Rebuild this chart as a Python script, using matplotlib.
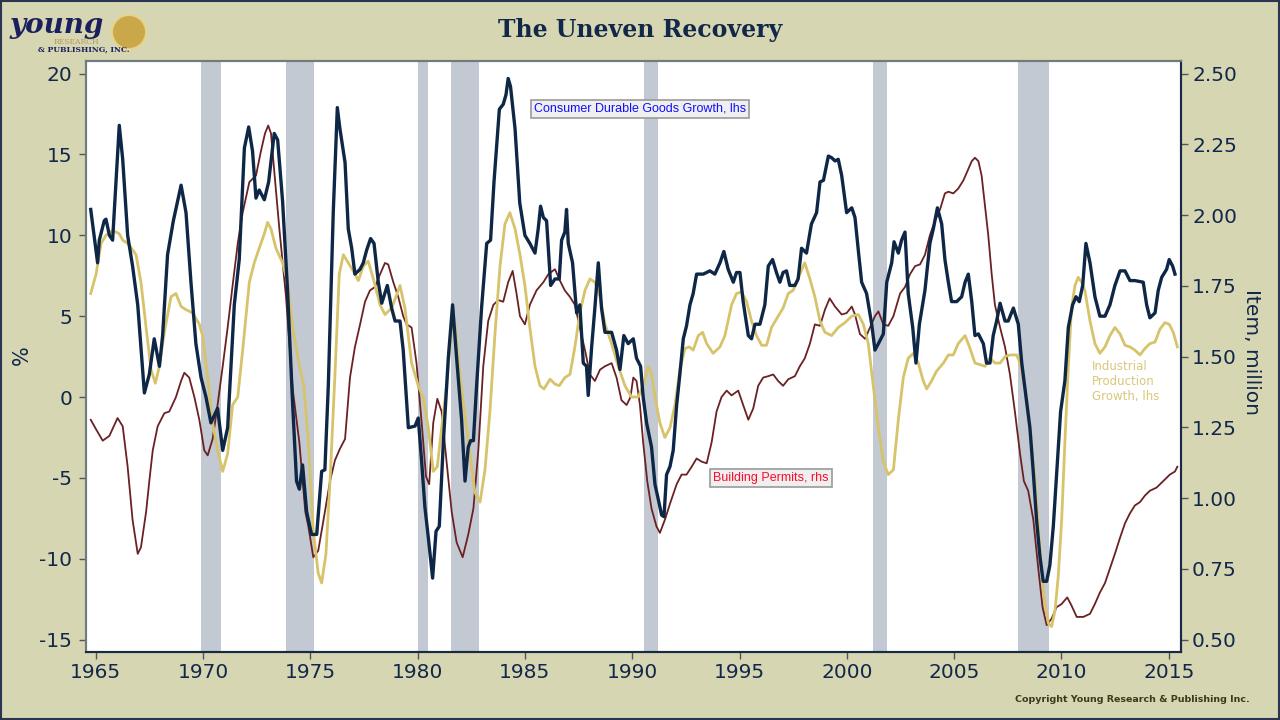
import matplotlib
matplotlib.use("Agg")
import matplotlib.pyplot as plt
from matplotlib.patches import Rectangle, Ellipse

plt.rcParams['axes.unicode_minus'] = False

# ---------------- data ----------------
# Consumer Durable Goods Growth, % (lhs)
dur_t = [1964.77, 1965.09, 1965.17, 1965.40, 1965.48, 1965.64, 1965.79, 1966.10, 1966.26, 1966.49,
         1966.72, 1966.96, 1967.27, 1967.50, 1967.73, 1967.97, 1968.12, 1968.35, 1968.62, 1968.98,
         1969.21, 1969.44, 1969.67, 1969.91, 1970.14, 1970.37, 1970.68, 1970.92, 1971.15, 1971.46,
         1971.69, 1971.93, 1972.13, 1972.31, 1972.47, 1972.62, 1972.86, 1973.06, 1973.32, 1973.48,
         1973.71, 1973.94, 1974.18, 1974.36, 1974.49, 1974.64, 1974.83, 1975.06, 1975.30, 1975.53,
         1975.68, 1975.84, 1976.07, 1976.26, 1976.38, 1976.62, 1976.77, 1976.93, 1977.08, 1977.32,
         1977.47, 1977.63, 1977.81, 1977.97, 1978.17, 1978.33, 1978.59, 1978.79, 1978.95, 1979.18,
         1979.33, 1979.57, 1979.88, 1980.03, 1980.19, 1980.34, 1980.50, 1980.70, 1980.86, 1981.01,
         1981.20, 1981.43, 1981.63, 1981.82, 1982.05, 1982.21, 1982.36, 1982.47, 1982.60, 1982.75,
         1982.98, 1983.22, 1983.40, 1983.56, 1983.81, 1983.99, 1984.12, 1984.22, 1984.33, 1984.54,
         1984.76, 1985.00, 1985.23, 1985.47, 1985.62, 1985.73, 1985.86, 1986.01, 1986.20, 1986.40,
         1986.60, 1986.71, 1986.86, 1986.94, 1987.02, 1987.22, 1987.41, 1987.56, 1987.72, 1987.87,
         1987.95, 1988.11, 1988.26, 1988.42, 1988.57, 1988.73, 1989.04, 1989.27, 1989.43, 1989.61,
         1989.81, 1990.05, 1990.20, 1990.39, 1990.51, 1990.67, 1990.90, 1991.06, 1991.21, 1991.37,
         1991.48, 1991.60, 1991.76, 1991.91, 1992.07, 1992.22, 1992.38, 1992.53, 1992.69, 1992.84,
         1993.00, 1993.31, 1993.62, 1993.85, 1994.09, 1994.27, 1994.47, 1994.71, 1994.86, 1995.02,
         1995.17, 1995.41, 1995.56, 1995.72, 1995.95, 1996.18, 1996.34, 1996.54, 1996.72, 1996.88,
         1997.03, 1997.19, 1997.34, 1997.58, 1997.73, 1997.89, 1998.12, 1998.35, 1998.59, 1998.75,
         1998.91, 1999.14, 1999.29, 1999.45, 1999.60, 1999.76, 1999.99, 2000.23, 2000.38, 2000.54,
         2000.69, 2000.92, 2001.16, 2001.31, 2001.47, 2001.70, 2001.86, 2002.09, 2002.20, 2002.40,
         2002.55, 2002.71, 2002.86, 2003.07, 2003.22, 2003.38, 2003.64, 2003.87, 2004.03, 2004.22,
         2004.42, 2004.57, 2004.73, 2004.88, 2005.12, 2005.35, 2005.51, 2005.66, 2005.82, 2005.97,
         2006.13, 2006.36, 2006.51, 2006.67, 2006.82, 2006.98, 2007.14, 2007.37, 2007.52, 2007.76,
         2007.99, 2008.15, 2008.30, 2008.53, 2008.69, 2008.84, 2009.00, 2009.15, 2009.31, 2009.46,
         2009.62, 2009.81, 2009.96, 2010.16, 2010.32, 2010.52, 2010.68, 2010.83, 2010.99, 2011.14,
         2011.33, 2011.56, 2011.79, 2012.03, 2012.26, 2012.49, 2012.73, 2012.96, 2013.19, 2013.42,
         2013.81, 2013.97, 2014.12, 2014.36, 2014.51, 2014.67, 2014.90, 2015.02, 2015.18, 2015.29]
dur_v = [11.6, 8.3, 9.7, 10.9, 11.0, 10.0, 9.7, 16.8, 14.7, 10.0,
         8.1, 5.7, 0.25, 1.4, 3.6, 1.9, 3.8, 8.8, 10.9, 13.1,
         11.4, 7.1, 3.3, 1.2, 0.0, -1.6, -0.7, -3.3, -1.9, 5.7,
         8.5, 15.4, 16.7, 15.2, 12.3, 12.8, 12.2, 13.3, 16.3, 15.9,
         12.1, 6.6, -0.5, -5.2, -5.7, -4.2, -7.1, -8.5, -8.5, -4.6,
         -4.5, 0.7, 11.4, 17.9, 16.6, 14.5, 10.4, 9.2, 7.6, 7.9,
         8.3, 9.1, 9.8, 9.5, 7.1, 5.8, 6.9, 5.5, 4.7, 4.7,
         2.9, -1.9, -1.8, -1.3, -4.0, -6.8, -8.7, -11.2, -8.3, -8.0,
         -2.8, 2.4, 5.7, 2.4, -1.4, -5.2, -3.1, -2.7, -2.7, 0.7,
         5.5, 9.5, 9.7, 13.3, 17.8, 18.1, 18.7, 19.7, 19.2, 16.6,
         12.0, 10.0, 9.5, 8.9, 10.4, 11.8, 11.1, 10.9, 6.9, 7.3,
         7.3, 9.7, 10.2, 11.6, 9.5, 8.3, 5.2, 5.7, 2.1, 1.9,
         0.1, 3.1, 5.5, 8.3, 5.5, 4.0, 4.0, 2.9, 1.7, 3.8,
         3.3, 3.6, 2.4, 1.9, 0.0, -1.6, -3.1, -5.4, -6.3, -7.3,
         -7.4, -4.8, -4.3, -3.3, -0.5, 1.4, 3.6, 4.4, 5.7, 6.4,
         7.6, 7.6, 7.8, 7.6, 8.3, 9.0, 7.9, 7.1, 7.7, 7.7,
         5.9, 3.8, 3.6, 4.5, 4.5, 5.7, 8.1, 8.5, 7.7, 7.1,
         7.7, 7.8, 6.9, 6.9, 7.3, 9.2, 8.9, 10.7, 11.4, 13.3,
         13.4, 14.9, 14.8, 14.6, 14.7, 13.7, 11.4, 11.7, 11.1, 9.0,
         7.1, 6.4, 4.5, 2.9, 3.3, 3.9, 7.1, 8.3, 9.6, 8.9,
         9.7, 10.2, 6.4, 4.3, 2.1, 4.5, 6.6, 9.5, 10.4, 11.7,
         10.7, 8.5, 7.1, 5.9, 5.9, 6.2, 7.1, 7.6, 5.9, 3.8,
         3.9, 3.3, 2.1, 2.1, 3.8, 4.7, 5.8, 4.7, 4.7, 5.5,
         4.5, 2.1, 0.5, -1.9, -4.7, -7.6, -9.9, -11.4, -11.4, -10.4,
         -8.0, -4.0, -0.9, 1.0, 4.3, 5.7, 6.2, 5.9, 6.9, 9.5,
         8.3, 6.2, 5.0, 5.0, 5.7, 6.9, 7.8, 7.8, 7.2, 7.2,
         7.1, 5.7, 4.9, 5.2, 6.6, 7.4, 7.9, 8.5, 8.1, 7.6]

# Industrial Production Growth, % (lhs)
ip_t = [1964.77, 1965.02, 1965.25, 1965.48, 1965.79, 1966.10, 1966.26, 1966.49, 1966.72, 1966.88,
        1967.11, 1967.35, 1967.58, 1967.78, 1967.97, 1968.20, 1968.51, 1968.74, 1968.98, 1969.21,
        1969.52, 1969.83, 1969.98, 1970.22, 1970.45, 1970.68, 1970.92, 1971.15, 1971.38, 1971.62,
        1971.85, 1972.16, 1972.39, 1972.62, 1972.86, 1973.01, 1973.17, 1973.40, 1973.71, 1973.94,
        1974.18, 1974.49, 1974.70, 1974.91, 1975.14, 1975.37, 1975.53, 1975.73, 1975.92, 1976.15,
        1976.35, 1976.54, 1976.77, 1977.00, 1977.24, 1977.47, 1977.70, 1977.94, 1978.25, 1978.48,
        1978.79, 1979.02, 1979.18, 1979.41, 1979.72, 1980.03, 1980.27, 1980.50, 1980.73, 1980.92,
        1981.12, 1981.35, 1981.59, 1981.74, 1981.97, 1982.21, 1982.44, 1982.67, 1982.91, 1983.14,
        1983.37, 1983.60, 1983.84, 1984.07, 1984.30, 1984.54, 1984.77, 1985.00, 1985.23, 1985.47,
        1985.70, 1985.89, 1986.17, 1986.40, 1986.60, 1986.86, 1987.10, 1987.33, 1987.56, 1987.80,
        1988.03, 1988.26, 1988.50, 1988.73, 1989.04, 1989.35, 1989.66, 1989.97, 1990.28, 1990.51,
        1990.75, 1990.90, 1991.06, 1991.29, 1991.52, 1991.76, 1991.99, 1992.22, 1992.46, 1992.66,
        1992.84, 1993.08, 1993.28, 1993.47, 1993.77, 1994.09, 1994.32, 1994.63, 1994.86, 1995.09,
        1995.33, 1995.56, 1995.79, 1996.03, 1996.26, 1996.49, 1996.80, 1997.03, 1997.27, 1997.50,
        1997.81, 1998.04, 1998.28, 1998.51, 1998.75, 1998.98, 1999.29, 1999.60, 1999.91, 2000.23,
        2000.54, 2000.77, 2001.00, 2001.23, 2001.47, 2001.70, 2001.93, 2002.17, 2002.40, 2002.63,
        2002.86, 2003.10, 2003.33, 2003.56, 2003.72, 2003.95, 2004.18, 2004.50, 2004.73, 2004.96,
        2005.19, 2005.51, 2005.74, 2005.97, 2006.20, 2006.44, 2006.67, 2006.90, 2007.14, 2007.37,
        2007.60, 2007.91, 2008.07, 2008.30, 2008.53, 2008.77, 2009.00, 2009.18, 2009.39, 2009.54,
        2009.70, 2009.85, 2010.01, 2010.16, 2010.32, 2010.47, 2010.63, 2010.78, 2010.94, 2011.09,
        2011.33, 2011.56, 2011.79, 2012.03, 2012.26, 2012.49, 2012.73, 2012.96, 2013.19, 2013.42,
        2013.66, 2013.89, 2014.12, 2014.36, 2014.59, 2014.82, 2015.02, 2015.21, 2015.40]
ip_v = [6.4, 7.6, 9.5, 10.0, 10.3, 10.1, 9.7, 9.5, 9.1, 8.8,
        7.1, 4.3, 1.7, 0.85, 1.9, 4.0, 6.2, 6.4, 5.6, 5.4,
        5.2, 4.5, 3.8, 1.2, -1.6, -3.3, -4.6, -3.5, -0.5, 0.0,
        2.9, 7.1, 8.3, 9.2, 10.1, 10.8, 10.4, 9.2, 8.3, 7.1,
        4.3, 1.9, 0.7, -2.8, -8.3, -10.9, -11.5, -9.7, -5.2, 1.4,
        7.6, 8.8, 8.3, 7.8, 7.2, 8.1, 8.4, 7.3, 5.7, 5.1,
        5.5, 6.3, 6.9, 5.5, 2.1, 0.7, -0.1, -1.9, -4.6, -4.3,
        -1.9, 0.7, 4.3, 4.5, 1.4, -1.2, -3.5, -5.9, -6.5, -4.5,
        -0.9, 3.8, 8.1, 10.7, 11.4, 10.4, 8.8, 6.9, 4.3, 1.9,
        0.7, 0.5, 1.1, 0.8, 0.7, 1.2, 1.4, 3.1, 5.2, 6.6,
        7.3, 7.1, 6.2, 4.5, 3.3, 1.9, 0.7, 0.0, 0.0, 0.7,
        1.9, 1.4, 0.0, -1.6, -2.5, -1.9, -0.5, 1.7, 3.0, 3.1,
        2.9, 3.8, 4.0, 3.3, 2.7, 3.1, 3.8, 5.7, 6.4, 6.5,
        5.9, 4.7, 3.8, 3.2, 3.2, 4.3, 5.0, 5.5, 6.4, 6.6,
        7.6, 8.3, 7.3, 6.2, 4.7, 4.0, 3.8, 4.3, 4.6, 5.0,
        5.1, 4.5, 3.3, 0.7, -1.9, -4.0, -4.8, -4.5, -1.4, 1.2,
        2.4, 2.7, 2.1, 1.0, 0.5, 1.0, 1.6, 2.1, 2.6, 2.6,
        3.3, 3.8, 3.0, 2.1, 2.0, 1.9, 2.4, 2.1, 2.1, 2.5,
        2.6, 2.6, 2.1, 0.5, -1.9, -5.2, -9.5, -12.3, -14.0, -14.2,
        -13.2, -11.1, -7.6, -2.8, 1.9, 5.5, 6.9, 7.4, 7.1, 6.6,
        4.7, 3.3, 2.7, 3.1, 3.8, 4.3, 3.9, 3.2, 3.1, 2.9,
        2.6, 3.0, 3.3, 3.4, 4.2, 4.6, 4.5, 4.0, 3.1]

# Building Permits, million (rhs)
bp_t = [1964.77, 1965.02, 1965.33, 1965.64, 1966.02, 1966.26, 1966.49, 1966.72, 1966.96, 1967.11,
        1967.35, 1967.50, 1967.66, 1967.89, 1968.20, 1968.43, 1968.74, 1968.98, 1969.13, 1969.36,
        1969.60, 1969.83, 1970.06, 1970.22, 1970.45, 1970.68, 1970.92, 1971.15, 1971.38, 1971.62,
        1971.85, 1972.16, 1972.47, 1972.70, 1972.89, 1973.04, 1973.17, 1973.32, 1973.56, 1973.87,
        1974.18, 1974.49, 1974.77, 1974.91, 1975.14, 1975.37, 1975.68, 1975.92, 1976.15, 1976.38,
        1976.62, 1976.85, 1977.08, 1977.32, 1977.55, 1977.78, 1978.01, 1978.25, 1978.48, 1978.63,
        1978.87, 1979.10, 1979.33, 1979.49, 1979.72, 1979.95, 1980.19, 1980.39, 1980.54, 1980.73,
        1980.92, 1981.12, 1981.35, 1981.59, 1981.82, 1982.10, 1982.36, 1982.60, 1982.83, 1983.06,
        1983.29, 1983.53, 1983.76, 1983.99, 1984.22, 1984.43, 1984.61, 1984.77, 1985.00, 1985.23,
        1985.54, 1985.86, 1986.09, 1986.40, 1986.63, 1986.86, 1987.10, 1987.33, 1987.56, 1987.80,
        1988.03, 1988.26, 1988.50, 1988.73, 1989.04, 1989.27, 1989.50, 1989.74, 1989.92, 1990.05,
        1990.20, 1990.36, 1990.51, 1990.70, 1990.90, 1991.13, 1991.29, 1991.52, 1991.76, 1992.07,
        1992.30, 1992.53, 1992.77, 1993.00, 1993.23, 1993.47, 1993.70, 1993.93, 1994.16, 1994.40,
        1994.63, 1994.94, 1995.17, 1995.41, 1995.64, 1995.87, 1996.10, 1996.34, 1996.57, 1996.80,
        1997.03, 1997.27, 1997.58, 1997.81, 1998.04, 1998.28, 1998.51, 1998.75, 1998.98, 1999.20,
        1999.45, 1999.76, 1999.99, 2000.23, 2000.38, 2000.61, 2000.85, 2001.08, 2001.31, 2001.47,
        2001.70, 2001.93, 2002.17, 2002.48, 2002.71, 2002.94, 2003.18, 2003.41, 2003.64, 2003.87,
        2004.11, 2004.34, 2004.57, 2004.73, 2004.96, 2005.19, 2005.43, 2005.66, 2005.82, 2005.97,
        2006.13, 2006.28, 2006.44, 2006.59, 2006.75, 2006.90, 2007.14, 2007.37, 2007.60, 2007.83,
        2008.07, 2008.25, 2008.45, 2008.69, 2008.92, 2009.12, 2009.31, 2009.54, 2009.77, 2010.01,
        2010.27, 2010.47, 2010.71, 2011.02, 2011.33, 2011.56, 2011.79, 2012.03, 2012.26, 2012.49,
        2012.73, 2012.96, 2013.19, 2013.42, 2013.66, 2013.89, 2014.12, 2014.43, 2014.74, 2015.05,
        2015.29, 2015.40]
bp_v = [1.277, 1.243, 1.203, 1.220, 1.283, 1.254, 1.111, 0.923, 0.803, 0.826,
        0.951, 1.060, 1.169, 1.254, 1.300, 1.306, 1.357, 1.414, 1.443, 1.426,
        1.357, 1.277, 1.169, 1.151, 1.209, 1.329, 1.466, 1.603, 1.751, 1.900,
        2.009, 2.117, 2.140, 2.226, 2.289, 2.317, 2.289, 2.157, 1.951, 1.711,
        1.386, 1.197, 0.951, 0.900, 0.791, 0.814, 0.951, 1.060, 1.134, 1.174,
        1.209, 1.426, 1.534, 1.614, 1.694, 1.734, 1.746, 1.791, 1.831, 1.826,
        1.763, 1.711, 1.643, 1.614, 1.603, 1.477, 1.266, 1.077, 1.049, 1.266,
        1.351, 1.306, 1.129, 0.951, 0.843, 0.791, 0.871, 0.963, 1.169, 1.466,
        1.626, 1.683, 1.700, 1.694, 1.763, 1.803, 1.723, 1.643, 1.614, 1.683,
        1.734, 1.763, 1.791, 1.809, 1.769, 1.734, 1.711, 1.683, 1.603, 1.523,
        1.437, 1.414, 1.454, 1.466, 1.477, 1.426, 1.346, 1.329, 1.357, 1.426,
        1.414, 1.329, 1.197, 1.060, 0.963, 0.900, 0.877, 0.923, 0.980, 1.049,
        1.083, 1.083, 1.111, 1.140, 1.129, 1.123, 1.197, 1.306, 1.357, 1.380,
        1.363, 1.380, 1.329, 1.277, 1.317, 1.397, 1.426, 1.431, 1.437, 1.414,
        1.397, 1.420, 1.431, 1.466, 1.494, 1.546, 1.614, 1.609, 1.666, 1.706,
        1.677, 1.649, 1.654, 1.677, 1.649, 1.580, 1.563, 1.603, 1.643, 1.660,
        1.614, 1.609, 1.643, 1.723, 1.746, 1.791, 1.820, 1.826, 1.860, 1.929,
        1.980, 2.020, 2.077, 2.083, 2.077, 2.094, 2.123, 2.163, 2.191, 2.203,
        2.191, 2.140, 2.031, 1.929, 1.791, 1.683, 1.603, 1.534, 1.437, 1.306,
        1.157, 1.060, 1.026, 0.923, 0.751, 0.614, 0.551, 0.574, 0.614, 0.626,
        0.649, 0.620, 0.580, 0.580, 0.591, 0.626, 0.666, 0.700, 0.751, 0.803,
        0.860, 0.911, 0.946, 0.974, 0.986, 1.009, 1.026, 1.037, 1.060, 1.083,
        1.094, 1.111]

recession_start = [1969.92, 1973.88, 1980.00, 1981.54, 1990.54, 2001.21, 2007.96]
recession_end = [1970.85, 1975.18, 1980.50, 1982.86, 1991.19, 2001.85, 2009.44]

x_ticks = [1965, 1970, 1975, 1980, 1985, 1990, 1995, 2000, 2005, 2010, 2015]
left_ticks = [-15, -10, -5, 0, 5, 10, 15, 20]
right_ticks = [0.50, 0.75, 1.00, 1.25, 1.50, 1.75, 2.00, 2.25, 2.50]

# ---------------- styling ----------------
BG = '#D7D6B3'
NAVY = '#0E2746'
GOLD = '#D6C36A'
MAROON = '#6B2123'
TXT = '#12284A'
RECESS = '#C2C9D2'

fig = plt.figure(figsize=(12.8, 7.2), dpi=100, facecolor=BG)
W, H = 1280.0, 720.0
ax2 = fig.add_axes([86 / W, 1 - 652 / H, (1181 - 86) / W, (652 - 61) / H])
ax1 = ax2.twinx()
# lhs series (durables, IP) drawn above the rhs series (permits)
ax2.set_zorder(1)
ax1.set_zorder(2)
ax1.patch.set_visible(False)
ax2.set_facecolor('white')

for s, e in zip(recession_start, recession_end):
    ax2.axvspan(s, e, color=RECESS, lw=0, zorder=0)

ax2.plot(bp_t, bp_v, color=MAROON, lw=1.3, zorder=2)
ax1.plot(ip_t, ip_v, color=GOLD, lw=2.0, zorder=3)
ax1.plot(dur_t, dur_v, color=NAVY, lw=2.4, zorder=4)

ax2.set_xlim(1964.55, 2015.57)
ax1.set_ylim(-15.77, 20.78)
ax2.set_ylim(0.456, 2.545)

ax1.yaxis.tick_left()
ax2.yaxis.tick_right()

ax1.set_yticks(left_ticks)
ax1.set_yticklabels([str(v) for v in left_ticks])
ax2.set_yticks(right_ticks)
ax2.set_yticklabels(['%.2f' % v for v in right_ticks])
ax2.set_xticks(x_ticks)
ax2.set_xticklabels([str(v) for v in x_ticks])

ax1.tick_params(axis='y', direction='out', length=5, width=1, color='#555555',
                labelsize=14.5, labelcolor=TXT, pad=5)
ax2.tick_params(axis='y', direction='out', length=5, width=1, color='#555555',
                labelsize=14.5, labelcolor=TXT, pad=3)
ax2.tick_params(axis='x', direction='out', length=5, width=1, color='#555555',
                labelsize=14.5, labelcolor=TXT, pad=3)
ax1.tick_params(axis='x', bottom=False, labelbottom=False)

for ax in (ax1, ax2):
    ax.spines['top'].set_color('#6E7C80')
    ax.spines['left'].set_color('#6E7C80')
    ax.spines['bottom'].set_color('#1B2A44')
    ax.spines['right'].set_color('#1B2A44')
    for sp in ax.spines.values():
        sp.set_linewidth(1.5)

# axis titles
fig.text(22 / W, 1 - 355 / H, '%', rotation=90, ha='center', va='center',
         fontsize=15, color=TXT)
fig.text(1252 / W, 1 - 352 / H, 'Item, million', rotation=270, ha='center', va='center',
         fontsize=14.5, color=TXT)

# series labels
ax1.text(0.506, 0.919, 'Consumer Durable Goods Growth, lhs', transform=ax1.transAxes,
         ha='center', va='center', fontsize=9, family='Liberation Sans', color='#1010FF',
         bbox=dict(boxstyle='square,pad=0.25', facecolor='#EFEFEF', edgecolor='#9A9A9A', lw=1.2),
         zorder=10)
ax1.text(0.6256, 0.2944, 'Building Permits, rhs', transform=ax1.transAxes,
         ha='center', va='center', fontsize=9, family='Liberation Sans', color='#FF0A2A',
         bbox=dict(boxstyle='square,pad=0.25', facecolor='#EFEFEF', edgecolor='#9A9A9A', lw=1.2),
         zorder=10)
ax1.text(0.9185, 0.457, 'Industrial\nProduction\nGrowth, lhs', transform=ax1.transAxes,
         ha='left', va='center', fontsize=8.5, color='#D9C77A', linespacing=1.2, zorder=10)

# title
fig.text(0.5, 1 - 30 / H, 'The Uneven Recovery', ha='center', va='center',
         fontsize=17, fontweight='bold', family='DejaVu Serif', color=TXT)

# logo
fig.patches.append(Ellipse((129 / W, 1 - 32 / H), 34 / W, 34 / H, transform=fig.transFigure,
                           facecolor='#C9A23E', edgecolor='#E8D58A', lw=1.5, alpha=0.9))
fig.text(10 / W, 1 - 39 / H, 'young', ha='left', va='bottom', fontsize=20,
         style='italic', fontweight='bold', family='DejaVu Serif', color='#1B1F5E')
fig.text(54 / W, 1 - 42.5 / H, 'RESEARCH', ha='left', va='center', fontsize=5.5,
         family='DejaVu Serif', color='#B49A55')
fig.text(38 / W, 1 - 49.5 / H, '& PUBLISHING, INC.', ha='left', va='center', fontsize=5.5,
         fontweight='bold', family='DejaVu Serif', color='#1B1F5E')

# copyright
fig.text(1132 / W, 1 - 700 / H, 'Copyright Young Research & Publishing Inc.', ha='center',
         va='center', fontsize=6.8, fontweight='bold', color='#3A3A1C')

# figure border
fig.patches.append(Rectangle((0.001, 0.001), 0.998, 0.998, transform=fig.transFigure,
                             fill=False, edgecolor='#2A3550', lw=1.5))

fig.savefig('out.png', dpi=100, facecolor=BG)
